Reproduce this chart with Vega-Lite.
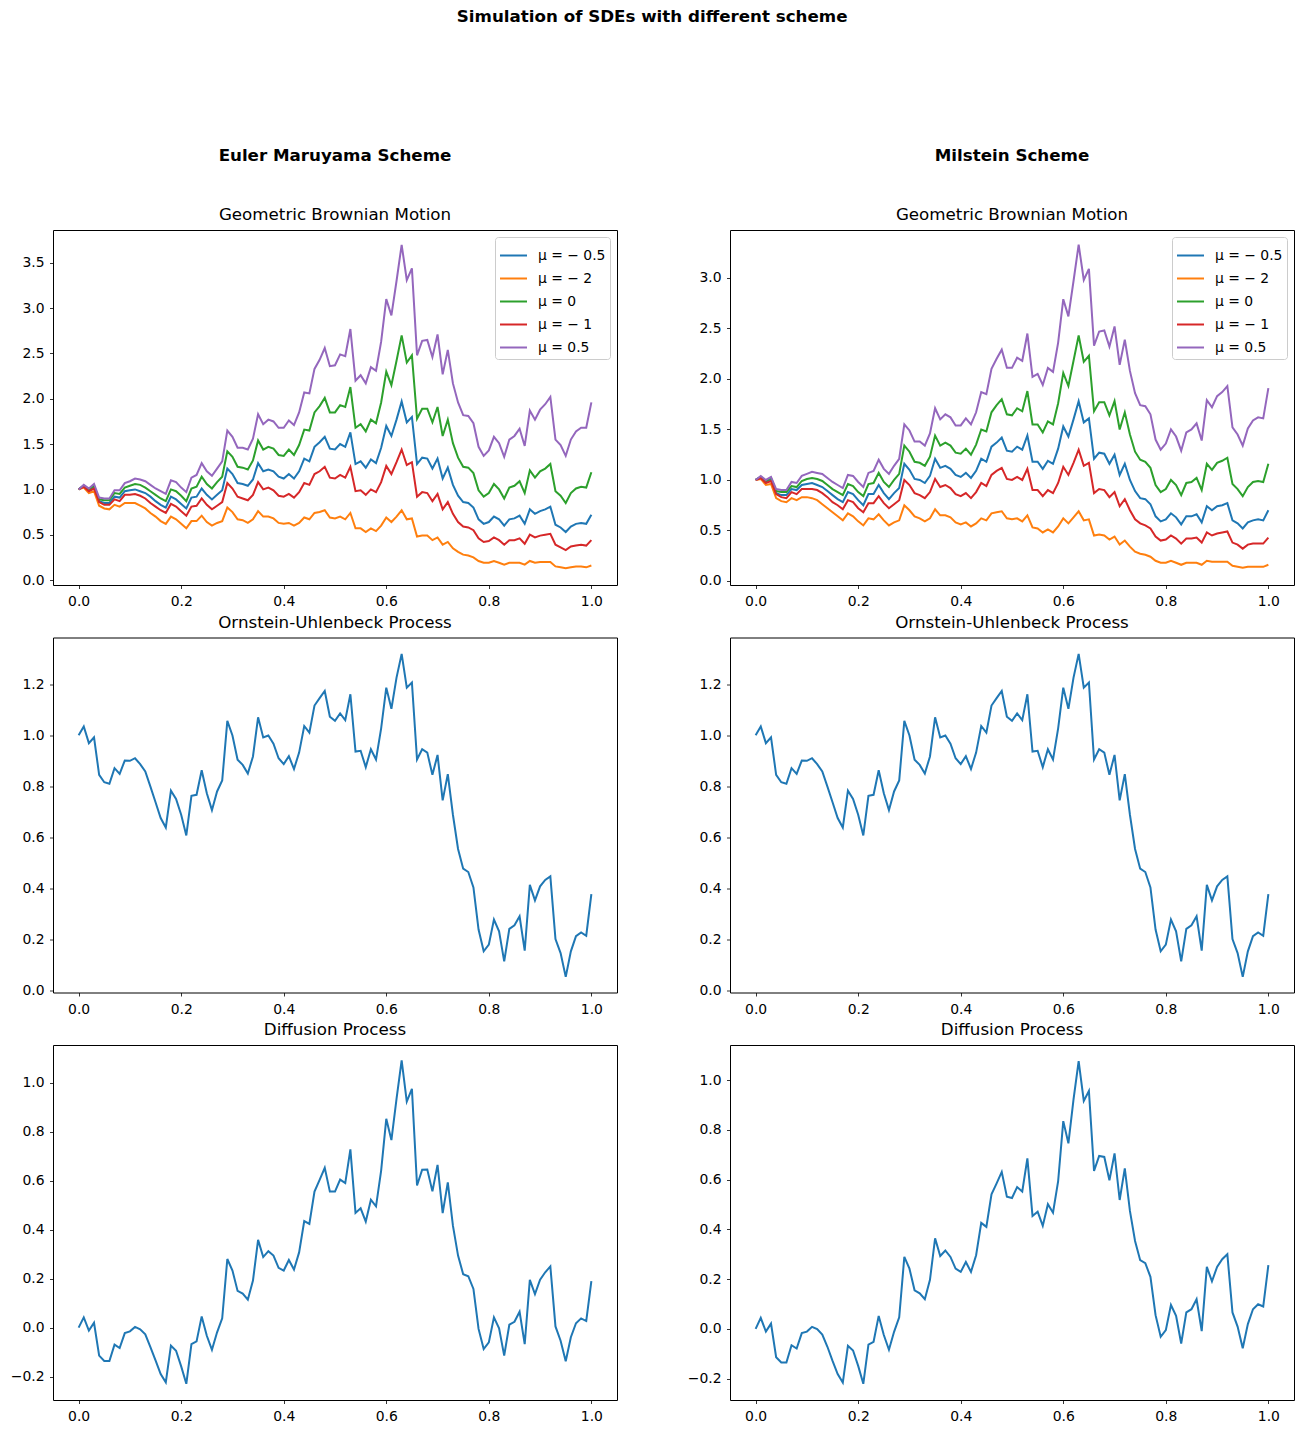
{
"$schema":"https://vega.github.io/schema/vega-lite/v6.json",
"background":"white",
"padding":{"left":9,"top":9,"right":10,"bottom":10},
"config":{
"font":"DejaVu Sans",
"view":{"stroke":"black","strokeWidth":1},
"axis":{"grid":false,"domain":false,"tickColor":"black","tickSize":3.5,"tickWidth":0.8,"labelColor":"black","labelFontSize":13.9,"labelPadding":3.5,"labelFont":"DejaVu Sans","title":null},
"axisY":{"minExtent":40,"maxExtent":40,"labelPadding":5.5},
"axisX":{"minExtent":22,"maxExtent":22,"labelPadding":6},
"title":{"font":"DejaVu Sans","fontSize":16.7,"fontWeight":"normal","color":"black","anchor":"middle","frame":"group","offset":6},
"legend":{"title":null,"orient":"top-right","offset":7,"strokeColor":"#cccccc","fillColor":"rgba(255,255,255,0.8)","cornerRadius":3,"padding":4,"symbolType":"stroke","symbolSize":729,"symbolStrokeWidth":2,"labelFontSize":13.9,"labelFont":"DejaVu Sans","rowPadding":1,"labelOffset":10,"labelColor":"black"}
},
"title":{"text":"Simulation of SDEs with different scheme","fontWeight":"bold","fontSize":16.7,"offset":121,"anchor":"middle","frame":"bounds"},
"resolve":{"scale":{"color":"independent"},"legend":{"color":"independent"}},
"datasets":{
"gL":[
{"t":0,"m":-0.5,"y":1.00},{"t":0.01,"m":-0.5,"y":1.04},{"t":0.02,"m":-0.5,"y":0.99},{"t":0.03,"m":-0.5,"y":1.02},{"t":0.04,"m":-0.5,"y":0.87},{"t":0.05,"m":-0.5,"y":0.85},{"t":0.06,"m":-0.5,"y":0.85},{"t":0.07,"m":-0.5,"y":0.92},{"t":0.08,"m":-0.5,"y":0.91},{"t":0.09,"m":-0.5,"y":0.98},
{"t":0.1,"m":-0.5,"y":0.99},{"t":0.11,"m":-0.5,"y":1.00},{"t":0.12,"m":-0.5,"y":0.98},{"t":0.13,"m":-0.5,"y":0.96},{"t":0.14,"m":-0.5,"y":0.92},{"t":0.15,"m":-0.5,"y":0.87},{"t":0.16,"m":-0.5,"y":0.83},{"t":0.17,"m":-0.5,"y":0.80},{"t":0.18,"m":-0.5,"y":0.92},{"t":0.19,"m":-0.5,"y":0.89},
{"t":0.2,"m":-0.5,"y":0.84},{"t":0.21,"m":-0.5,"y":0.79},{"t":0.22,"m":-0.5,"y":0.91},{"t":0.23,"m":-0.5,"y":0.92},{"t":0.24,"m":-0.5,"y":1.01},{"t":0.25,"m":-0.5,"y":0.94},{"t":0.26,"m":-0.5,"y":0.89},{"t":0.27,"m":-0.5,"y":0.94},{"t":0.28,"m":-0.5,"y":0.99},{"t":0.29,"m":-0.5,"y":1.23},
{"t":0.3,"m":-0.5,"y":1.17},{"t":0.31,"m":-0.5,"y":1.07},{"t":0.32,"m":-0.5,"y":1.06},{"t":0.33,"m":-0.5,"y":1.04},{"t":0.34,"m":-0.5,"y":1.11},{"t":0.35,"m":-0.5,"y":1.29},{"t":0.36,"m":-0.5,"y":1.20},{"t":0.37,"m":-0.5,"y":1.22},{"t":0.38,"m":-0.5,"y":1.20},{"t":0.39,"m":-0.5,"y":1.14},
{"t":0.4,"m":-0.5,"y":1.12},{"t":0.41,"m":-0.5,"y":1.17},{"t":0.42,"m":-0.5,"y":1.12},{"t":0.43,"m":-0.5,"y":1.20},{"t":0.44,"m":-0.5,"y":1.34},{"t":0.45,"m":-0.5,"y":1.31},{"t":0.46,"m":-0.5,"y":1.47},{"t":0.47,"m":-0.5,"y":1.52},{"t":0.48,"m":-0.5,"y":1.58},{"t":0.49,"m":-0.5,"y":1.45},
{"t":0.5,"m":-0.5,"y":1.44},{"t":0.51,"m":-0.5,"y":1.50},{"t":0.52,"m":-0.5,"y":1.47},{"t":0.53,"m":-0.5,"y":1.63},{"t":0.54,"m":-0.5,"y":1.28},{"t":0.55,"m":-0.5,"y":1.31},{"t":0.56,"m":-0.5,"y":1.24},{"t":0.57,"m":-0.5,"y":1.33},{"t":0.58,"m":-0.5,"y":1.29},{"t":0.59,"m":-0.5,"y":1.46},
{"t":0.6,"m":-0.5,"y":1.70},{"t":0.61,"m":-0.5,"y":1.59},{"t":0.62,"m":-0.5,"y":1.77},{"t":0.63,"m":-0.5,"y":1.97},{"t":0.64,"m":-0.5,"y":1.74},{"t":0.65,"m":-0.5,"y":1.80},{"t":0.66,"m":-0.5,"y":1.28},{"t":0.67,"m":-0.5,"y":1.35},{"t":0.68,"m":-0.5,"y":1.34},{"t":0.69,"m":-0.5,"y":1.23},
{"t":0.7,"m":-0.5,"y":1.34},{"t":0.71,"m":-0.5,"y":1.12},{"t":0.72,"m":-0.5,"y":1.24},{"t":0.73,"m":-0.5,"y":1.05},{"t":0.74,"m":-0.5,"y":0.93},{"t":0.75,"m":-0.5,"y":0.86},{"t":0.76,"m":-0.5,"y":0.85},{"t":0.77,"m":-0.5,"y":0.80},{"t":0.78,"m":-0.5,"y":0.67},{"t":0.79,"m":-0.5,"y":0.62},
{"t":0.8,"m":-0.5,"y":0.64},{"t":0.81,"m":-0.5,"y":0.70},{"t":0.82,"m":-0.5,"y":0.67},{"t":0.83,"m":-0.5,"y":0.60},{"t":0.84,"m":-0.5,"y":0.67},{"t":0.85,"m":-0.5,"y":0.68},{"t":0.86,"m":-0.5,"y":0.71},{"t":0.87,"m":-0.5,"y":0.62},{"t":0.88,"m":-0.5,"y":0.78},{"t":0.89,"m":-0.5,"y":0.73},
{"t":0.9,"m":-0.5,"y":0.76},{"t":0.91,"m":-0.5,"y":0.78},{"t":0.92,"m":-0.5,"y":0.81},{"t":0.93,"m":-0.5,"y":0.61},{"t":0.94,"m":-0.5,"y":0.58},{"t":0.95,"m":-0.5,"y":0.53},{"t":0.96,"m":-0.5,"y":0.59},{"t":0.97,"m":-0.5,"y":0.62},{"t":0.98,"m":-0.5,"y":0.63},{"t":0.99,"m":-0.5,"y":0.62},{"t":1,"m":-0.5,"y":0.72},
{"t":0,"m":-2,"y":1.00},{"t":0.01,"m":-2,"y":1.02},{"t":0.02,"m":-2,"y":0.96},{"t":0.03,"m":-2,"y":0.98},{"t":0.04,"m":-2,"y":0.82},{"t":0.05,"m":-2,"y":0.79},{"t":0.06,"m":-2,"y":0.78},{"t":0.07,"m":-2,"y":0.83},{"t":0.08,"m":-2,"y":0.81},{"t":0.09,"m":-2,"y":0.85},
{"t":0.1,"m":-2,"y":0.85},{"t":0.11,"m":-2,"y":0.85},{"t":0.12,"m":-2,"y":0.82},{"t":0.13,"m":-2,"y":0.79},{"t":0.14,"m":-2,"y":0.74},{"t":0.15,"m":-2,"y":0.70},{"t":0.16,"m":-2,"y":0.65},{"t":0.17,"m":-2,"y":0.62},{"t":0.18,"m":-2,"y":0.70},{"t":0.19,"m":-2,"y":0.67},
{"t":0.2,"m":-2,"y":0.62},{"t":0.21,"m":-2,"y":0.57},{"t":0.22,"m":-2,"y":0.65},{"t":0.23,"m":-2,"y":0.65},{"t":0.24,"m":-2,"y":0.71},{"t":0.25,"m":-2,"y":0.64},{"t":0.26,"m":-2,"y":0.60},{"t":0.27,"m":-2,"y":0.63},{"t":0.28,"m":-2,"y":0.65},{"t":0.29,"m":-2,"y":0.80},
{"t":0.3,"m":-2,"y":0.75},{"t":0.31,"m":-2,"y":0.67},{"t":0.32,"m":-2,"y":0.66},{"t":0.33,"m":-2,"y":0.63},{"t":0.34,"m":-2,"y":0.67},{"t":0.35,"m":-2,"y":0.76},{"t":0.36,"m":-2,"y":0.70},{"t":0.37,"m":-2,"y":0.70},{"t":0.38,"m":-2,"y":0.68},{"t":0.39,"m":-2,"y":0.63},
{"t":0.4,"m":-2,"y":0.62},{"t":0.41,"m":-2,"y":0.63},{"t":0.42,"m":-2,"y":0.60},{"t":0.43,"m":-2,"y":0.63},{"t":0.44,"m":-2,"y":0.69},{"t":0.45,"m":-2,"y":0.67},{"t":0.46,"m":-2,"y":0.74},{"t":0.47,"m":-2,"y":0.75},{"t":0.48,"m":-2,"y":0.77},{"t":0.49,"m":-2,"y":0.69},
{"t":0.5,"m":-2,"y":0.68},{"t":0.51,"m":-2,"y":0.70},{"t":0.52,"m":-2,"y":0.67},{"t":0.53,"m":-2,"y":0.74},{"t":0.54,"m":-2,"y":0.57},{"t":0.55,"m":-2,"y":0.57},{"t":0.56,"m":-2,"y":0.53},{"t":0.57,"m":-2,"y":0.57},{"t":0.58,"m":-2,"y":0.54},{"t":0.59,"m":-2,"y":0.60},
{"t":0.6,"m":-2,"y":0.69},{"t":0.61,"m":-2,"y":0.64},{"t":0.62,"m":-2,"y":0.70},{"t":0.63,"m":-2,"y":0.77},{"t":0.64,"m":-2,"y":0.67},{"t":0.65,"m":-2,"y":0.68},{"t":0.66,"m":-2,"y":0.48},{"t":0.67,"m":-2,"y":0.49},{"t":0.68,"m":-2,"y":0.49},{"t":0.69,"m":-2,"y":0.44},
{"t":0.7,"m":-2,"y":0.47},{"t":0.71,"m":-2,"y":0.39},{"t":0.72,"m":-2,"y":0.42},{"t":0.73,"m":-2,"y":0.35},{"t":0.74,"m":-2,"y":0.31},{"t":0.75,"m":-2,"y":0.28},{"t":0.76,"m":-2,"y":0.27},{"t":0.77,"m":-2,"y":0.25},{"t":0.78,"m":-2,"y":0.21},{"t":0.79,"m":-2,"y":0.19},
{"t":0.8,"m":-2,"y":0.19},{"t":0.81,"m":-2,"y":0.21},{"t":0.82,"m":-2,"y":0.19},{"t":0.83,"m":-2,"y":0.17},{"t":0.84,"m":-2,"y":0.19},{"t":0.85,"m":-2,"y":0.19},{"t":0.86,"m":-2,"y":0.19},{"t":0.87,"m":-2,"y":0.17},{"t":0.88,"m":-2,"y":0.21},{"t":0.89,"m":-2,"y":0.19},
{"t":0.9,"m":-2,"y":0.20},{"t":0.91,"m":-2,"y":0.20},{"t":0.92,"m":-2,"y":0.20},{"t":0.93,"m":-2,"y":0.15},{"t":0.94,"m":-2,"y":0.14},{"t":0.95,"m":-2,"y":0.13},{"t":0.96,"m":-2,"y":0.14},{"t":0.97,"m":-2,"y":0.15},{"t":0.98,"m":-2,"y":0.15},{"t":0.99,"m":-2,"y":0.14},{"t":1,"m":-2,"y":0.16},
{"t":0,"m":0,"y":1.00},{"t":0.01,"m":0,"y":1.04},{"t":0.02,"m":0,"y":1.00},{"t":0.03,"m":0,"y":1.04},{"t":0.04,"m":0,"y":0.89},{"t":0.05,"m":0,"y":0.88},{"t":0.06,"m":0,"y":0.88},{"t":0.07,"m":0,"y":0.96},{"t":0.08,"m":0,"y":0.95},{"t":0.09,"m":0,"y":1.02},
{"t":0.1,"m":0,"y":1.04},{"t":0.11,"m":0,"y":1.06},{"t":0.12,"m":0,"y":1.05},{"t":0.13,"m":0,"y":1.02},{"t":0.14,"m":0,"y":0.98},{"t":0.15,"m":0,"y":0.94},{"t":0.16,"m":0,"y":0.90},{"t":0.17,"m":0,"y":0.87},{"t":0.18,"m":0,"y":1.00},{"t":0.19,"m":0,"y":0.98},
{"t":0.2,"m":0,"y":0.93},{"t":0.21,"m":0,"y":0.87},{"t":0.22,"m":0,"y":1.01},{"t":0.23,"m":0,"y":1.03},{"t":0.24,"m":0,"y":1.14},{"t":0.25,"m":0,"y":1.06},{"t":0.26,"m":0,"y":1.01},{"t":0.27,"m":0,"y":1.08},{"t":0.28,"m":0,"y":1.14},{"t":0.29,"m":0,"y":1.42},
{"t":0.3,"m":0,"y":1.36},{"t":0.31,"m":0,"y":1.25},{"t":0.32,"m":0,"y":1.24},{"t":0.33,"m":0,"y":1.22},{"t":0.34,"m":0,"y":1.32},{"t":0.35,"m":0,"y":1.54},{"t":0.36,"m":0,"y":1.44},{"t":0.37,"m":0,"y":1.47},{"t":0.38,"m":0,"y":1.45},{"t":0.39,"m":0,"y":1.38},
{"t":0.4,"m":0,"y":1.37},{"t":0.41,"m":0,"y":1.44},{"t":0.42,"m":0,"y":1.38},{"t":0.43,"m":0,"y":1.49},{"t":0.44,"m":0,"y":1.66},{"t":0.45,"m":0,"y":1.65},{"t":0.46,"m":0,"y":1.85},{"t":0.47,"m":0,"y":1.92},{"t":0.48,"m":0,"y":2.01},{"t":0.49,"m":0,"y":1.85},
{"t":0.5,"m":0,"y":1.85},{"t":0.51,"m":0,"y":1.93},{"t":0.52,"m":0,"y":1.91},{"t":0.53,"m":0,"y":2.13},{"t":0.54,"m":0,"y":1.68},{"t":0.55,"m":0,"y":1.72},{"t":0.56,"m":0,"y":1.64},{"t":0.57,"m":0,"y":1.77},{"t":0.58,"m":0,"y":1.73},{"t":0.59,"m":0,"y":1.96},
{"t":0.6,"m":0,"y":2.30},{"t":0.61,"m":0,"y":2.15},{"t":0.62,"m":0,"y":2.42},{"t":0.63,"m":0,"y":2.70},{"t":0.64,"m":0,"y":2.40},{"t":0.65,"m":0,"y":2.48},{"t":0.66,"m":0,"y":1.78},{"t":0.67,"m":0,"y":1.89},{"t":0.68,"m":0,"y":1.89},{"t":0.69,"m":0,"y":1.74},
{"t":0.7,"m":0,"y":1.91},{"t":0.71,"m":0,"y":1.59},{"t":0.72,"m":0,"y":1.77},{"t":0.73,"m":0,"y":1.51},{"t":0.74,"m":0,"y":1.35},{"t":0.75,"m":0,"y":1.25},{"t":0.76,"m":0,"y":1.24},{"t":0.77,"m":0,"y":1.18},{"t":0.78,"m":0,"y":0.99},{"t":0.79,"m":0,"y":0.92},
{"t":0.8,"m":0,"y":0.96},{"t":0.81,"m":0,"y":1.06},{"t":0.82,"m":0,"y":1.00},{"t":0.83,"m":0,"y":0.90},{"t":0.84,"m":0,"y":1.02},{"t":0.85,"m":0,"y":1.04},{"t":0.86,"m":0,"y":1.09},{"t":0.87,"m":0,"y":0.96},{"t":0.88,"m":0,"y":1.21},{"t":0.89,"m":0,"y":1.13},
{"t":0.9,"m":0,"y":1.20},{"t":0.91,"m":0,"y":1.23},{"t":0.92,"m":0,"y":1.28},{"t":0.93,"m":0,"y":0.98},{"t":0.94,"m":0,"y":0.93},{"t":0.95,"m":0,"y":0.85},{"t":0.96,"m":0,"y":0.96},{"t":0.97,"m":0,"y":1.01},{"t":0.98,"m":0,"y":1.03},{"t":0.99,"m":0,"y":1.02},{"t":1,"m":0,"y":1.19},
{"t":0,"m":-1,"y":1.00},{"t":0.01,"m":-1,"y":1.03},{"t":0.02,"m":-1,"y":0.98},{"t":0.03,"m":-1,"y":1.01},{"t":0.04,"m":-1,"y":0.86},{"t":0.05,"m":-1,"y":0.83},{"t":0.06,"m":-1,"y":0.83},{"t":0.07,"m":-1,"y":0.89},{"t":0.08,"m":-1,"y":0.87},{"t":0.09,"m":-1,"y":0.94},
{"t":0.1,"m":-1,"y":0.94},{"t":0.11,"m":-1,"y":0.95},{"t":0.12,"m":-1,"y":0.93},{"t":0.13,"m":-1,"y":0.90},{"t":0.14,"m":-1,"y":0.85},{"t":0.15,"m":-1,"y":0.81},{"t":0.16,"m":-1,"y":0.77},{"t":0.17,"m":-1,"y":0.74},{"t":0.18,"m":-1,"y":0.84},{"t":0.19,"m":-1,"y":0.81},
{"t":0.2,"m":-1,"y":0.76},{"t":0.21,"m":-1,"y":0.71},{"t":0.22,"m":-1,"y":0.81},{"t":0.23,"m":-1,"y":0.82},{"t":0.24,"m":-1,"y":0.90},{"t":0.25,"m":-1,"y":0.83},{"t":0.26,"m":-1,"y":0.78},{"t":0.27,"m":-1,"y":0.82},{"t":0.28,"m":-1,"y":0.86},{"t":0.29,"m":-1,"y":1.07},
{"t":0.3,"m":-1,"y":1.01},{"t":0.31,"m":-1,"y":0.92},{"t":0.32,"m":-1,"y":0.90},{"t":0.33,"m":-1,"y":0.88},{"t":0.34,"m":-1,"y":0.94},{"t":0.35,"m":-1,"y":1.08},{"t":0.36,"m":-1,"y":1.00},{"t":0.37,"m":-1,"y":1.02},{"t":0.38,"m":-1,"y":0.99},{"t":0.39,"m":-1,"y":0.93},
{"t":0.4,"m":-1,"y":0.92},{"t":0.41,"m":-1,"y":0.95},{"t":0.42,"m":-1,"y":0.91},{"t":0.43,"m":-1,"y":0.97},{"t":0.44,"m":-1,"y":1.07},{"t":0.45,"m":-1,"y":1.05},{"t":0.46,"m":-1,"y":1.17},{"t":0.47,"m":-1,"y":1.20},{"t":0.48,"m":-1,"y":1.25},{"t":0.49,"m":-1,"y":1.13},
{"t":0.5,"m":-1,"y":1.12},{"t":0.51,"m":-1,"y":1.16},{"t":0.52,"m":-1,"y":1.13},{"t":0.53,"m":-1,"y":1.25},{"t":0.54,"m":-1,"y":0.98},{"t":0.55,"m":-1,"y":0.99},{"t":0.56,"m":-1,"y":0.94},{"t":0.57,"m":-1,"y":1.00},{"t":0.58,"m":-1,"y":0.97},{"t":0.59,"m":-1,"y":1.08},
{"t":0.6,"m":-1,"y":1.26},{"t":0.61,"m":-1,"y":1.17},{"t":0.62,"m":-1,"y":1.30},{"t":0.63,"m":-1,"y":1.44},{"t":0.64,"m":-1,"y":1.27},{"t":0.65,"m":-1,"y":1.30},{"t":0.66,"m":-1,"y":0.92},{"t":0.67,"m":-1,"y":0.97},{"t":0.68,"m":-1,"y":0.96},{"t":0.69,"m":-1,"y":0.87},
{"t":0.7,"m":-1,"y":0.95},{"t":0.71,"m":-1,"y":0.78},{"t":0.72,"m":-1,"y":0.86},{"t":0.73,"m":-1,"y":0.73},{"t":0.74,"m":-1,"y":0.64},{"t":0.75,"m":-1,"y":0.59},{"t":0.76,"m":-1,"y":0.58},{"t":0.77,"m":-1,"y":0.55},{"t":0.78,"m":-1,"y":0.46},{"t":0.79,"m":-1,"y":0.42},
{"t":0.8,"m":-1,"y":0.43},{"t":0.81,"m":-1,"y":0.47},{"t":0.82,"m":-1,"y":0.44},{"t":0.83,"m":-1,"y":0.39},{"t":0.84,"m":-1,"y":0.44},{"t":0.85,"m":-1,"y":0.44},{"t":0.86,"m":-1,"y":0.46},{"t":0.87,"m":-1,"y":0.40},{"t":0.88,"m":-1,"y":0.50},{"t":0.89,"m":-1,"y":0.47},
{"t":0.9,"m":-1,"y":0.49},{"t":0.91,"m":-1,"y":0.50},{"t":0.92,"m":-1,"y":0.51},{"t":0.93,"m":-1,"y":0.39},{"t":0.94,"m":-1,"y":0.36},{"t":0.95,"m":-1,"y":0.33},{"t":0.96,"m":-1,"y":0.37},{"t":0.97,"m":-1,"y":0.38},{"t":0.98,"m":-1,"y":0.39},{"t":0.99,"m":-1,"y":0.38},{"t":1,"m":-1,"y":0.44},
{"t":0,"m":0.5,"y":1.00},{"t":0.01,"m":0.5,"y":1.05},{"t":0.02,"m":0.5,"y":1.01},{"t":0.03,"m":0.5,"y":1.06},{"t":0.04,"m":0.5,"y":0.91},{"t":0.05,"m":0.5,"y":0.90},{"t":0.06,"m":0.5,"y":0.90},{"t":0.07,"m":0.5,"y":0.99},{"t":0.08,"m":0.5,"y":0.99},{"t":0.09,"m":0.5,"y":1.07},
{"t":0.1,"m":0.5,"y":1.09},{"t":0.11,"m":0.5,"y":1.12},{"t":0.12,"m":0.5,"y":1.11},{"t":0.13,"m":0.5,"y":1.09},{"t":0.14,"m":0.5,"y":1.05},{"t":0.15,"m":0.5,"y":1.01},{"t":0.16,"m":0.5,"y":0.98},{"t":0.17,"m":0.5,"y":0.95},{"t":0.18,"m":0.5,"y":1.10},{"t":0.19,"m":0.5,"y":1.08},
{"t":0.2,"m":0.5,"y":1.02},{"t":0.21,"m":0.5,"y":0.97},{"t":0.22,"m":0.5,"y":1.13},{"t":0.23,"m":0.5,"y":1.16},{"t":0.24,"m":0.5,"y":1.29},{"t":0.25,"m":0.5,"y":1.20},{"t":0.26,"m":0.5,"y":1.15},{"t":0.27,"m":0.5,"y":1.23},{"t":0.28,"m":0.5,"y":1.31},{"t":0.29,"m":0.5,"y":1.65},
{"t":0.3,"m":0.5,"y":1.58},{"t":0.31,"m":0.5,"y":1.46},{"t":0.32,"m":0.5,"y":1.46},{"t":0.33,"m":0.5,"y":1.44},{"t":0.34,"m":0.5,"y":1.56},{"t":0.35,"m":0.5,"y":1.83},{"t":0.36,"m":0.5,"y":1.72},{"t":0.37,"m":0.5,"y":1.77},{"t":0.38,"m":0.5,"y":1.75},{"t":0.39,"m":0.5,"y":1.68},
{"t":0.4,"m":0.5,"y":1.68},{"t":0.41,"m":0.5,"y":1.76},{"t":0.42,"m":0.5,"y":1.71},{"t":0.43,"m":0.5,"y":1.85},{"t":0.44,"m":0.5,"y":2.07},{"t":0.45,"m":0.5,"y":2.06},{"t":0.46,"m":0.5,"y":2.33},{"t":0.47,"m":0.5,"y":2.43},{"t":0.48,"m":0.5,"y":2.56},{"t":0.49,"m":0.5,"y":2.36},
{"t":0.5,"m":0.5,"y":2.37},{"t":0.51,"m":0.5,"y":2.49},{"t":0.52,"m":0.5,"y":2.47},{"t":0.53,"m":0.5,"y":2.77},{"t":0.54,"m":0.5,"y":2.20},{"t":0.55,"m":0.5,"y":2.26},{"t":0.56,"m":0.5,"y":2.17},{"t":0.57,"m":0.5,"y":2.35},{"t":0.58,"m":0.5,"y":2.31},{"t":0.59,"m":0.5,"y":2.63},
{"t":0.6,"m":0.5,"y":3.10},{"t":0.61,"m":0.5,"y":2.92},{"t":0.62,"m":0.5,"y":3.30},{"t":0.63,"m":0.5,"y":3.70},{"t":0.64,"m":0.5,"y":3.31},{"t":0.65,"m":0.5,"y":3.44},{"t":0.66,"m":0.5,"y":2.48},{"t":0.67,"m":0.5,"y":2.64},{"t":0.68,"m":0.5,"y":2.65},{"t":0.69,"m":0.5,"y":2.46},
{"t":0.7,"m":0.5,"y":2.71},{"t":0.71,"m":0.5,"y":2.27},{"t":0.72,"m":0.5,"y":2.54},{"t":0.73,"m":0.5,"y":2.17},{"t":0.74,"m":0.5,"y":1.96},{"t":0.75,"m":0.5,"y":1.82},{"t":0.76,"m":0.5,"y":1.81},{"t":0.77,"m":0.5,"y":1.73},{"t":0.78,"m":0.5,"y":1.47},{"t":0.79,"m":0.5,"y":1.37},
{"t":0.8,"m":0.5,"y":1.43},{"t":0.81,"m":0.5,"y":1.58},{"t":0.82,"m":0.5,"y":1.51},{"t":0.83,"m":0.5,"y":1.36},{"t":0.84,"m":0.5,"y":1.55},{"t":0.85,"m":0.5,"y":1.59},{"t":0.86,"m":0.5,"y":1.67},{"t":0.87,"m":0.5,"y":1.48},{"t":0.88,"m":0.5,"y":1.87},{"t":0.89,"m":0.5,"y":1.77},
{"t":0.9,"m":0.5,"y":1.88},{"t":0.91,"m":0.5,"y":1.94},{"t":0.92,"m":0.5,"y":2.02},{"t":0.93,"m":0.5,"y":1.55},{"t":0.94,"m":0.5,"y":1.49},{"t":0.95,"m":0.5,"y":1.37},{"t":0.96,"m":0.5,"y":1.55},{"t":0.97,"m":0.5,"y":1.64},{"t":0.98,"m":0.5,"y":1.68},{"t":0.99,"m":0.5,"y":1.68},{"t":1,"m":0.5,"y":1.96}
],
"gR":[
{"t":0,"m":-0.5,"y":1.00},{"t":0.01,"m":-0.5,"y":1.03},{"t":0.02,"m":-0.5,"y":0.98},{"t":0.03,"m":-0.5,"y":1.00},{"t":0.04,"m":-0.5,"y":0.87},{"t":0.05,"m":-0.5,"y":0.85},{"t":0.06,"m":-0.5,"y":0.85},{"t":0.07,"m":-0.5,"y":0.91},{"t":0.08,"m":-0.5,"y":0.90},{"t":0.09,"m":-0.5,"y":0.95},
{"t":0.1,"m":-0.5,"y":0.96},{"t":0.11,"m":-0.5,"y":0.97},{"t":0.12,"m":-0.5,"y":0.95},{"t":0.13,"m":-0.5,"y":0.93},{"t":0.14,"m":-0.5,"y":0.89},{"t":0.15,"m":-0.5,"y":0.85},{"t":0.16,"m":-0.5,"y":0.81},{"t":0.17,"m":-0.5,"y":0.78},{"t":0.18,"m":-0.5,"y":0.88},{"t":0.19,"m":-0.5,"y":0.86},
{"t":0.2,"m":-0.5,"y":0.80},{"t":0.21,"m":-0.5,"y":0.75},{"t":0.22,"m":-0.5,"y":0.86},{"t":0.23,"m":-0.5,"y":0.86},{"t":0.24,"m":-0.5,"y":0.95},{"t":0.25,"m":-0.5,"y":0.87},{"t":0.26,"m":-0.5,"y":0.81},{"t":0.27,"m":-0.5,"y":0.87},{"t":0.28,"m":-0.5,"y":0.92},{"t":0.29,"m":-0.5,"y":1.16},
{"t":0.3,"m":-0.5,"y":1.10},{"t":0.31,"m":-0.5,"y":1.01},{"t":0.32,"m":-0.5,"y":1.00},{"t":0.33,"m":-0.5,"y":0.97},{"t":0.34,"m":-0.5,"y":1.04},{"t":0.35,"m":-0.5,"y":1.21},{"t":0.36,"m":-0.5,"y":1.12},{"t":0.37,"m":-0.5,"y":1.14},{"t":0.38,"m":-0.5,"y":1.11},{"t":0.39,"m":-0.5,"y":1.05},
{"t":0.4,"m":-0.5,"y":1.03},{"t":0.41,"m":-0.5,"y":1.07},{"t":0.42,"m":-0.5,"y":1.02},{"t":0.43,"m":-0.5,"y":1.09},{"t":0.44,"m":-0.5,"y":1.21},{"t":0.45,"m":-0.5,"y":1.18},{"t":0.46,"m":-0.5,"y":1.33},{"t":0.47,"m":-0.5,"y":1.37},{"t":0.48,"m":-0.5,"y":1.42},{"t":0.49,"m":-0.5,"y":1.29},
{"t":0.5,"m":-0.5,"y":1.28},{"t":0.51,"m":-0.5,"y":1.33},{"t":0.52,"m":-0.5,"y":1.30},{"t":0.53,"m":-0.5,"y":1.44},{"t":0.54,"m":-0.5,"y":1.18},{"t":0.55,"m":-0.5,"y":1.18},{"t":0.56,"m":-0.5,"y":1.11},{"t":0.57,"m":-0.5,"y":1.19},{"t":0.58,"m":-0.5,"y":1.16},{"t":0.59,"m":-0.5,"y":1.31},
{"t":0.6,"m":-0.5,"y":1.53},{"t":0.61,"m":-0.5,"y":1.43},{"t":0.62,"m":-0.5,"y":1.60},{"t":0.63,"m":-0.5,"y":1.78},{"t":0.64,"m":-0.5,"y":1.57},{"t":0.65,"m":-0.5,"y":1.61},{"t":0.66,"m":-0.5,"y":1.21},{"t":0.67,"m":-0.5,"y":1.27},{"t":0.68,"m":-0.5,"y":1.26},{"t":0.69,"m":-0.5,"y":1.16},
{"t":0.7,"m":-0.5,"y":1.25},{"t":0.71,"m":-0.5,"y":1.05},{"t":0.72,"m":-0.5,"y":1.16},{"t":0.73,"m":-0.5,"y":1.00},{"t":0.74,"m":-0.5,"y":0.89},{"t":0.75,"m":-0.5,"y":0.82},{"t":0.76,"m":-0.5,"y":0.81},{"t":0.77,"m":-0.5,"y":0.76},{"t":0.78,"m":-0.5,"y":0.64},{"t":0.79,"m":-0.5,"y":0.59},
{"t":0.8,"m":-0.5,"y":0.61},{"t":0.81,"m":-0.5,"y":0.67},{"t":0.82,"m":-0.5,"y":0.63},{"t":0.83,"m":-0.5,"y":0.56},{"t":0.84,"m":-0.5,"y":0.64},{"t":0.85,"m":-0.5,"y":0.64},{"t":0.86,"m":-0.5,"y":0.66},{"t":0.87,"m":-0.5,"y":0.58},{"t":0.88,"m":-0.5,"y":0.74},{"t":0.89,"m":-0.5,"y":0.70},
{"t":0.9,"m":-0.5,"y":0.74},{"t":0.91,"m":-0.5,"y":0.75},{"t":0.92,"m":-0.5,"y":0.77},{"t":0.93,"m":-0.5,"y":0.60},{"t":0.94,"m":-0.5,"y":0.57},{"t":0.95,"m":-0.5,"y":0.52},{"t":0.96,"m":-0.5,"y":0.58},{"t":0.97,"m":-0.5,"y":0.60},{"t":0.98,"m":-0.5,"y":0.61},{"t":0.99,"m":-0.5,"y":0.60},{"t":1,"m":-0.5,"y":0.70},
{"t":0,"m":-2,"y":1.00},{"t":0.01,"m":-2,"y":1.01},{"t":0.02,"m":-2,"y":0.95},{"t":0.03,"m":-2,"y":0.96},{"t":0.04,"m":-2,"y":0.82},{"t":0.05,"m":-2,"y":0.79},{"t":0.06,"m":-2,"y":0.78},{"t":0.07,"m":-2,"y":0.82},{"t":0.08,"m":-2,"y":0.80},{"t":0.09,"m":-2,"y":0.83},
{"t":0.1,"m":-2,"y":0.83},{"t":0.11,"m":-2,"y":0.82},{"t":0.12,"m":-2,"y":0.80},{"t":0.13,"m":-2,"y":0.76},{"t":0.14,"m":-2,"y":0.72},{"t":0.15,"m":-2,"y":0.68},{"t":0.16,"m":-2,"y":0.64},{"t":0.17,"m":-2,"y":0.60},{"t":0.18,"m":-2,"y":0.67},{"t":0.19,"m":-2,"y":0.64},
{"t":0.2,"m":-2,"y":0.59},{"t":0.21,"m":-2,"y":0.55},{"t":0.22,"m":-2,"y":0.62},{"t":0.23,"m":-2,"y":0.61},{"t":0.24,"m":-2,"y":0.66},{"t":0.25,"m":-2,"y":0.60},{"t":0.26,"m":-2,"y":0.55},{"t":0.27,"m":-2,"y":0.58},{"t":0.28,"m":-2,"y":0.60},{"t":0.29,"m":-2,"y":0.75},
{"t":0.3,"m":-2,"y":0.70},{"t":0.31,"m":-2,"y":0.64},{"t":0.32,"m":-2,"y":0.62},{"t":0.33,"m":-2,"y":0.59},{"t":0.34,"m":-2,"y":0.62},{"t":0.35,"m":-2,"y":0.71},{"t":0.36,"m":-2,"y":0.65},{"t":0.37,"m":-2,"y":0.65},{"t":0.38,"m":-2,"y":0.63},{"t":0.39,"m":-2,"y":0.58},
{"t":0.4,"m":-2,"y":0.56},{"t":0.41,"m":-2,"y":0.58},{"t":0.42,"m":-2,"y":0.54},{"t":0.43,"m":-2,"y":0.57},{"t":0.44,"m":-2,"y":0.62},{"t":0.45,"m":-2,"y":0.60},{"t":0.46,"m":-2,"y":0.67},{"t":0.47,"m":-2,"y":0.68},{"t":0.48,"m":-2,"y":0.69},{"t":0.49,"m":-2,"y":0.62},
{"t":0.5,"m":-2,"y":0.61},{"t":0.51,"m":-2,"y":0.62},{"t":0.52,"m":-2,"y":0.59},{"t":0.53,"m":-2,"y":0.65},{"t":0.54,"m":-2,"y":0.53},{"t":0.55,"m":-2,"y":0.52},{"t":0.56,"m":-2,"y":0.48},{"t":0.57,"m":-2,"y":0.51},{"t":0.58,"m":-2,"y":0.48},{"t":0.59,"m":-2,"y":0.54},
{"t":0.6,"m":-2,"y":0.62},{"t":0.61,"m":-2,"y":0.57},{"t":0.62,"m":-2,"y":0.63},{"t":0.63,"m":-2,"y":0.69},{"t":0.64,"m":-2,"y":0.60},{"t":0.65,"m":-2,"y":0.61},{"t":0.66,"m":-2,"y":0.45},{"t":0.67,"m":-2,"y":0.46},{"t":0.68,"m":-2,"y":0.45},{"t":0.69,"m":-2,"y":0.41},
{"t":0.7,"m":-2,"y":0.44},{"t":0.71,"m":-2,"y":0.36},{"t":0.72,"m":-2,"y":0.40},{"t":0.73,"m":-2,"y":0.34},{"t":0.74,"m":-2,"y":0.29},{"t":0.75,"m":-2,"y":0.27},{"t":0.76,"m":-2,"y":0.26},{"t":0.77,"m":-2,"y":0.24},{"t":0.78,"m":-2,"y":0.20},{"t":0.79,"m":-2,"y":0.18},
{"t":0.8,"m":-2,"y":0.18},{"t":0.81,"m":-2,"y":0.20},{"t":0.82,"m":-2,"y":0.18},{"t":0.83,"m":-2,"y":0.16},{"t":0.84,"m":-2,"y":0.18},{"t":0.85,"m":-2,"y":0.18},{"t":0.86,"m":-2,"y":0.18},{"t":0.87,"m":-2,"y":0.16},{"t":0.88,"m":-2,"y":0.20},{"t":0.89,"m":-2,"y":0.19},
{"t":0.9,"m":-2,"y":0.19},{"t":0.91,"m":-2,"y":0.19},{"t":0.92,"m":-2,"y":0.19},{"t":0.93,"m":-2,"y":0.15},{"t":0.94,"m":-2,"y":0.14},{"t":0.95,"m":-2,"y":0.13},{"t":0.96,"m":-2,"y":0.14},{"t":0.97,"m":-2,"y":0.14},{"t":0.98,"m":-2,"y":0.14},{"t":0.99,"m":-2,"y":0.14},{"t":1,"m":-2,"y":0.16},
{"t":0,"m":0,"y":1.00},{"t":0.01,"m":0,"y":1.03},{"t":0.02,"m":0,"y":0.99},{"t":0.03,"m":0,"y":1.02},{"t":0.04,"m":0,"y":0.89},{"t":0.05,"m":0,"y":0.88},{"t":0.06,"m":0,"y":0.88},{"t":0.07,"m":0,"y":0.94},{"t":0.08,"m":0,"y":0.93},{"t":0.09,"m":0,"y":0.99},
{"t":0.1,"m":0,"y":1.01},{"t":0.11,"m":0,"y":1.02},{"t":0.12,"m":0,"y":1.01},{"t":0.13,"m":0,"y":0.99},{"t":0.14,"m":0,"y":0.95},{"t":0.15,"m":0,"y":0.91},{"t":0.16,"m":0,"y":0.88},{"t":0.17,"m":0,"y":0.85},{"t":0.18,"m":0,"y":0.96},{"t":0.19,"m":0,"y":0.94},
{"t":0.2,"m":0,"y":0.88},{"t":0.21,"m":0,"y":0.84},{"t":0.22,"m":0,"y":0.96},{"t":0.23,"m":0,"y":0.97},{"t":0.24,"m":0,"y":1.07},{"t":0.25,"m":0,"y":0.98},{"t":0.26,"m":0,"y":0.93},{"t":0.27,"m":0,"y":1.00},{"t":0.28,"m":0,"y":1.06},{"t":0.29,"m":0,"y":1.34},
{"t":0.3,"m":0,"y":1.28},{"t":0.31,"m":0,"y":1.18},{"t":0.32,"m":0,"y":1.17},{"t":0.33,"m":0,"y":1.14},{"t":0.34,"m":0,"y":1.23},{"t":0.35,"m":0,"y":1.44},{"t":0.36,"m":0,"y":1.34},{"t":0.37,"m":0,"y":1.37},{"t":0.38,"m":0,"y":1.34},{"t":0.39,"m":0,"y":1.27},
{"t":0.4,"m":0,"y":1.26},{"t":0.41,"m":0,"y":1.31},{"t":0.42,"m":0,"y":1.25},{"t":0.43,"m":0,"y":1.35},{"t":0.44,"m":0,"y":1.50},{"t":0.45,"m":0,"y":1.48},{"t":0.46,"m":0,"y":1.67},{"t":0.47,"m":0,"y":1.74},{"t":0.48,"m":0,"y":1.80},{"t":0.49,"m":0,"y":1.65},
{"t":0.5,"m":0,"y":1.64},{"t":0.51,"m":0,"y":1.71},{"t":0.52,"m":0,"y":1.68},{"t":0.53,"m":0,"y":1.88},{"t":0.54,"m":0,"y":1.55},{"t":0.55,"m":0,"y":1.55},{"t":0.56,"m":0,"y":1.47},{"t":0.57,"m":0,"y":1.58},{"t":0.58,"m":0,"y":1.55},{"t":0.59,"m":0,"y":1.76},
{"t":0.6,"m":0,"y":2.06},{"t":0.61,"m":0,"y":1.93},{"t":0.62,"m":0,"y":2.18},{"t":0.63,"m":0,"y":2.43},{"t":0.64,"m":0,"y":2.17},{"t":0.65,"m":0,"y":2.23},{"t":0.66,"m":0,"y":1.68},{"t":0.67,"m":0,"y":1.77},{"t":0.68,"m":0,"y":1.77},{"t":0.69,"m":0,"y":1.64},
{"t":0.7,"m":0,"y":1.78},{"t":0.71,"m":0,"y":1.50},{"t":0.72,"m":0,"y":1.67},{"t":0.73,"m":0,"y":1.45},{"t":0.74,"m":0,"y":1.28},{"t":0.75,"m":0,"y":1.20},{"t":0.76,"m":0,"y":1.18},{"t":0.77,"m":0,"y":1.12},{"t":0.78,"m":0,"y":0.95},{"t":0.79,"m":0,"y":0.88},
{"t":0.8,"m":0,"y":0.91},{"t":0.81,"m":0,"y":1.00},{"t":0.82,"m":0,"y":0.95},{"t":0.83,"m":0,"y":0.85},{"t":0.84,"m":0,"y":0.97},{"t":0.85,"m":0,"y":0.98},{"t":0.86,"m":0,"y":1.02},{"t":0.87,"m":0,"y":0.90},{"t":0.88,"m":0,"y":1.16},{"t":0.89,"m":0,"y":1.10},
{"t":0.9,"m":0,"y":1.17},{"t":0.91,"m":0,"y":1.19},{"t":0.92,"m":0,"y":1.22},{"t":0.93,"m":0,"y":0.96},{"t":0.94,"m":0,"y":0.91},{"t":0.95,"m":0,"y":0.84},{"t":0.96,"m":0,"y":0.93},{"t":0.97,"m":0,"y":0.98},{"t":0.98,"m":0,"y":0.99},{"t":0.99,"m":0,"y":0.98},{"t":1,"m":0,"y":1.16},
{"t":0,"m":-1,"y":1.00},{"t":0.01,"m":-1,"y":1.02},{"t":0.02,"m":-1,"y":0.97},{"t":0.03,"m":-1,"y":0.99},{"t":0.04,"m":-1,"y":0.86},{"t":0.05,"m":-1,"y":0.83},{"t":0.06,"m":-1,"y":0.82},{"t":0.07,"m":-1,"y":0.88},{"t":0.08,"m":-1,"y":0.86},{"t":0.09,"m":-1,"y":0.91},
{"t":0.1,"m":-1,"y":0.91},{"t":0.11,"m":-1,"y":0.91},{"t":0.12,"m":-1,"y":0.90},{"t":0.13,"m":-1,"y":0.87},{"t":0.14,"m":-1,"y":0.83},{"t":0.15,"m":-1,"y":0.78},{"t":0.16,"m":-1,"y":0.75},{"t":0.17,"m":-1,"y":0.71},{"t":0.18,"m":-1,"y":0.80},{"t":0.19,"m":-1,"y":0.78},
{"t":0.2,"m":-1,"y":0.72},{"t":0.21,"m":-1,"y":0.68},{"t":0.22,"m":-1,"y":0.77},{"t":0.23,"m":-1,"y":0.77},{"t":0.24,"m":-1,"y":0.84},{"t":0.25,"m":-1,"y":0.77},{"t":0.26,"m":-1,"y":0.72},{"t":0.27,"m":-1,"y":0.76},{"t":0.28,"m":-1,"y":0.80},{"t":0.29,"m":-1,"y":1.00},
{"t":0.3,"m":-1,"y":0.95},{"t":0.31,"m":-1,"y":0.87},{"t":0.32,"m":-1,"y":0.85},{"t":0.33,"m":-1,"y":0.82},{"t":0.34,"m":-1,"y":0.88},{"t":0.35,"m":-1,"y":1.01},{"t":0.36,"m":-1,"y":0.93},{"t":0.37,"m":-1,"y":0.95},{"t":0.38,"m":-1,"y":0.92},{"t":0.39,"m":-1,"y":0.86},
{"t":0.4,"m":-1,"y":0.84},{"t":0.41,"m":-1,"y":0.87},{"t":0.42,"m":-1,"y":0.82},{"t":0.43,"m":-1,"y":0.88},{"t":0.44,"m":-1,"y":0.97},{"t":0.45,"m":-1,"y":0.94},{"t":0.46,"m":-1,"y":1.05},{"t":0.47,"m":-1,"y":1.09},{"t":0.48,"m":-1,"y":1.12},{"t":0.49,"m":-1,"y":1.01},
{"t":0.5,"m":-1,"y":1.00},{"t":0.51,"m":-1,"y":1.03},{"t":0.52,"m":-1,"y":1.00},{"t":0.53,"m":-1,"y":1.11},{"t":0.54,"m":-1,"y":0.90},{"t":0.55,"m":-1,"y":0.90},{"t":0.56,"m":-1,"y":0.84},{"t":0.57,"m":-1,"y":0.90},{"t":0.58,"m":-1,"y":0.87},{"t":0.59,"m":-1,"y":0.97},
{"t":0.6,"m":-1,"y":1.13},{"t":0.61,"m":-1,"y":1.05},{"t":0.62,"m":-1,"y":1.17},{"t":0.63,"m":-1,"y":1.30},{"t":0.64,"m":-1,"y":1.14},{"t":0.65,"m":-1,"y":1.17},{"t":0.66,"m":-1,"y":0.87},{"t":0.67,"m":-1,"y":0.91},{"t":0.68,"m":-1,"y":0.90},{"t":0.69,"m":-1,"y":0.83},
{"t":0.7,"m":-1,"y":0.88},{"t":0.71,"m":-1,"y":0.74},{"t":0.72,"m":-1,"y":0.81},{"t":0.73,"m":-1,"y":0.70},{"t":0.74,"m":-1,"y":0.61},{"t":0.75,"m":-1,"y":0.57},{"t":0.76,"m":-1,"y":0.55},{"t":0.77,"m":-1,"y":0.52},{"t":0.78,"m":-1,"y":0.44},{"t":0.79,"m":-1,"y":0.40},
{"t":0.8,"m":-1,"y":0.41},{"t":0.81,"m":-1,"y":0.45},{"t":0.82,"m":-1,"y":0.42},{"t":0.83,"m":-1,"y":0.37},{"t":0.84,"m":-1,"y":0.42},{"t":0.85,"m":-1,"y":0.42},{"t":0.86,"m":-1,"y":0.43},{"t":0.87,"m":-1,"y":0.38},{"t":0.88,"m":-1,"y":0.48},{"t":0.89,"m":-1,"y":0.45},
{"t":0.9,"m":-1,"y":0.47},{"t":0.91,"m":-1,"y":0.48},{"t":0.92,"m":-1,"y":0.49},{"t":0.93,"m":-1,"y":0.38},{"t":0.94,"m":-1,"y":0.36},{"t":0.95,"m":-1,"y":0.32},{"t":0.96,"m":-1,"y":0.36},{"t":0.97,"m":-1,"y":0.37},{"t":0.98,"m":-1,"y":0.37},{"t":0.99,"m":-1,"y":0.37},{"t":1,"m":-1,"y":0.43},
{"t":0,"m":0.5,"y":1.00},{"t":0.01,"m":0.5,"y":1.04},{"t":0.02,"m":0.5,"y":1.00},{"t":0.03,"m":0.5,"y":1.03},{"t":0.04,"m":0.5,"y":0.91},{"t":0.05,"m":0.5,"y":0.90},{"t":0.06,"m":0.5,"y":0.90},{"t":0.07,"m":0.5,"y":0.98},{"t":0.08,"m":0.5,"y":0.97},{"t":0.09,"m":0.5,"y":1.04},
{"t":0.1,"m":0.5,"y":1.06},{"t":0.11,"m":0.5,"y":1.08},{"t":0.12,"m":0.5,"y":1.07},{"t":0.13,"m":0.5,"y":1.06},{"t":0.14,"m":0.5,"y":1.02},{"t":0.15,"m":0.5,"y":0.98},{"t":0.16,"m":0.5,"y":0.95},{"t":0.17,"m":0.5,"y":0.92},{"t":0.18,"m":0.5,"y":1.05},{"t":0.19,"m":0.5,"y":1.04},
{"t":0.2,"m":0.5,"y":0.98},{"t":0.21,"m":0.5,"y":0.93},{"t":0.22,"m":0.5,"y":1.07},{"t":0.23,"m":0.5,"y":1.09},{"t":0.24,"m":0.5,"y":1.20},{"t":0.25,"m":0.5,"y":1.11},{"t":0.26,"m":0.5,"y":1.06},{"t":0.27,"m":0.5,"y":1.14},{"t":0.28,"m":0.5,"y":1.21},{"t":0.29,"m":0.5,"y":1.55},
{"t":0.3,"m":0.5,"y":1.49},{"t":0.31,"m":0.5,"y":1.38},{"t":0.32,"m":0.5,"y":1.38},{"t":0.33,"m":0.5,"y":1.34},{"t":0.34,"m":0.5,"y":1.46},{"t":0.35,"m":0.5,"y":1.71},{"t":0.36,"m":0.5,"y":1.60},{"t":0.37,"m":0.5,"y":1.65},{"t":0.38,"m":0.5,"y":1.62},{"t":0.39,"m":0.5,"y":1.54},
{"t":0.4,"m":0.5,"y":1.54},{"t":0.41,"m":0.5,"y":1.61},{"t":0.42,"m":0.5,"y":1.55},{"t":0.43,"m":0.5,"y":1.67},{"t":0.44,"m":0.5,"y":1.87},{"t":0.45,"m":0.5,"y":1.85},{"t":0.46,"m":0.5,"y":2.10},{"t":0.47,"m":0.5,"y":2.20},{"t":0.48,"m":0.5,"y":2.29},{"t":0.49,"m":0.5,"y":2.11},
{"t":0.5,"m":0.5,"y":2.11},{"t":0.51,"m":0.5,"y":2.21},{"t":0.52,"m":0.5,"y":2.18},{"t":0.53,"m":0.5,"y":2.45},{"t":0.54,"m":0.5,"y":2.02},{"t":0.55,"m":0.5,"y":2.05},{"t":0.56,"m":0.5,"y":1.94},{"t":0.57,"m":0.5,"y":2.11},{"t":0.58,"m":0.5,"y":2.07},{"t":0.59,"m":0.5,"y":2.36},
{"t":0.6,"m":0.5,"y":2.79},{"t":0.61,"m":0.5,"y":2.62},{"t":0.62,"m":0.5,"y":2.97},{"t":0.63,"m":0.5,"y":3.33},{"t":0.64,"m":0.5,"y":2.98},{"t":0.65,"m":0.5,"y":3.09},{"t":0.66,"m":0.5,"y":2.33},{"t":0.67,"m":0.5,"y":2.47},{"t":0.68,"m":0.5,"y":2.48},{"t":0.69,"m":0.5,"y":2.32},
{"t":0.7,"m":0.5,"y":2.52},{"t":0.71,"m":0.5,"y":2.14},{"t":0.72,"m":0.5,"y":2.39},{"t":0.73,"m":0.5,"y":2.08},{"t":0.74,"m":0.5,"y":1.86},{"t":0.75,"m":0.5,"y":1.74},{"t":0.76,"m":0.5,"y":1.73},{"t":0.77,"m":0.5,"y":1.65},{"t":0.78,"m":0.5,"y":1.40},{"t":0.79,"m":0.5,"y":1.30},
{"t":0.8,"m":0.5,"y":1.36},{"t":0.81,"m":0.5,"y":1.50},{"t":0.82,"m":0.5,"y":1.43},{"t":0.83,"m":0.5,"y":1.29},{"t":0.84,"m":0.5,"y":1.47},{"t":0.85,"m":0.5,"y":1.50},{"t":0.86,"m":0.5,"y":1.56},{"t":0.87,"m":0.5,"y":1.39},{"t":0.88,"m":0.5,"y":1.79},{"t":0.89,"m":0.5,"y":1.72},
{"t":0.9,"m":0.5,"y":1.83},{"t":0.91,"m":0.5,"y":1.87},{"t":0.92,"m":0.5,"y":1.93},{"t":0.93,"m":0.5,"y":1.52},{"t":0.94,"m":0.5,"y":1.45},{"t":0.95,"m":0.5,"y":1.34},{"t":0.96,"m":0.5,"y":1.51},{"t":0.97,"m":0.5,"y":1.59},{"t":0.98,"m":0.5,"y":1.62},{"t":0.99,"m":0.5,"y":1.61},{"t":1,"m":0.5,"y":1.91}
],
"ou":[
{"t":0,"y":1.0},{"t":0.01,"y":1.034},{"t":0.02,"y":0.969},{"t":0.03,"y":0.992},{"t":0.04,"y":0.845},{"t":0.05,"y":0.816},{"t":0.06,"y":0.81},{"t":0.07,"y":0.871},{"t":0.08,"y":0.849},{"t":0.09,"y":0.901},
{"t":0.1,"y":0.9},{"t":0.11,"y":0.91},{"t":0.12,"y":0.887},{"t":0.13,"y":0.858},{"t":0.14,"y":0.799},{"t":0.15,"y":0.738},{"t":0.16,"y":0.676},{"t":0.17,"y":0.639},{"t":0.18,"y":0.783},{"t":0.19,"y":0.751},
{"t":0.2,"y":0.689},{"t":0.21,"y":0.608},{"t":0.22,"y":0.763},{"t":0.23,"y":0.767},{"t":0.24,"y":0.863},{"t":0.25,"y":0.773},{"t":0.26,"y":0.707},{"t":0.27,"y":0.78},{"t":0.28,"y":0.823},{"t":0.29,"y":1.056},
{"t":0.3,"y":0.999},{"t":0.31,"y":0.904},{"t":0.32,"y":0.884},{"t":0.33,"y":0.85},{"t":0.34,"y":0.917},{"t":0.35,"y":1.07},{"t":0.36,"y":0.991},{"t":0.37,"y":0.999},{"t":0.38,"y":0.967},{"t":0.39,"y":0.91},
{"t":0.4,"y":0.887},{"t":0.41,"y":0.918},{"t":0.42,"y":0.868},{"t":0.43,"y":0.932},{"t":0.44,"y":1.036},{"t":0.45,"y":1.01},{"t":0.46,"y":1.116},{"t":0.47,"y":1.145},{"t":0.48,"y":1.173},{"t":0.49,"y":1.072},
{"t":0.5,"y":1.056},{"t":0.51,"y":1.085},{"t":0.52,"y":1.059},{"t":0.53,"y":1.16},{"t":0.54,"y":0.936},{"t":0.55,"y":0.939},{"t":0.56,"y":0.875},{"t":0.57,"y":0.945},{"t":0.58,"y":0.905},{"t":0.59,"y":1.027},
{"t":0.6,"y":1.186},{"t":0.61,"y":1.103},{"t":0.62,"y":1.225},{"t":0.63,"y":1.318},{"t":0.64,"y":1.186},{"t":0.65,"y":1.206},{"t":0.66,"y":0.905},{"t":0.67,"y":0.945},{"t":0.68,"y":0.932},{"t":0.69,"y":0.845},
{"t":0.7,"y":0.923},{"t":0.71,"y":0.745},{"t":0.72,"y":0.848},{"t":0.73,"y":0.689},{"t":0.74,"y":0.555},{"t":0.75,"y":0.478},{"t":0.76,"y":0.465},{"t":0.77,"y":0.405},{"t":0.78,"y":0.24},{"t":0.79,"y":0.155},
{"t":0.8,"y":0.181},{"t":0.81,"y":0.279},{"t":0.82,"y":0.233},{"t":0.83,"y":0.116},{"t":0.84,"y":0.243},{"t":0.85,"y":0.257},{"t":0.86,"y":0.292},{"t":0.87,"y":0.158},{"t":0.88,"y":0.415},{"t":0.89,"y":0.354},
{"t":0.9,"y":0.409},{"t":0.91,"y":0.434},{"t":0.92,"y":0.448},{"t":0.93,"y":0.203},{"t":0.94,"y":0.148},{"t":0.95,"y":0.055},{"t":0.96,"y":0.155},{"t":0.97,"y":0.214},{"t":0.98,"y":0.229},{"t":0.99,"y":0.216},{"t":1,"y":0.379}
],
"dL":[
{"t":0,"y":0},{"t":0.01,"y":0.042},{"t":0.02,"y":-0.012},{"t":0.03,"y":0.02},{"t":0.04,"y":-0.114},{"t":0.05,"y":-0.136},{"t":0.06,"y":-0.136},{"t":0.07,"y":-0.069},{"t":0.08,"y":-0.083},{"t":0.09,"y":-0.022},
{"t":0.1,"y":-0.015},{"t":0.11,"y":0.003},{"t":0.12,"y":-0.007},{"t":0.13,"y":-0.027},{"t":0.14,"y":-0.079},{"t":0.15,"y":-0.133},{"t":0.16,"y":-0.189},{"t":0.17,"y":-0.223},{"t":0.18,"y":-0.073},{"t":0.19,"y":-0.094},
{"t":0.2,"y":-0.158},{"t":0.21,"y":-0.229},{"t":0.22,"y":-0.067},{"t":0.23,"y":-0.056},{"t":0.24,"y":0.046},{"t":0.25,"y":-0.033},{"t":0.26,"y":-0.09},{"t":0.27,"y":-0.019},{"t":0.28,"y":0.038},{"t":0.29,"y":0.28},
{"t":0.3,"y":0.233},{"t":0.31,"y":0.15},{"t":0.32,"y":0.139},{"t":0.33,"y":0.114},{"t":0.34,"y":0.192},{"t":0.35,"y":0.358},{"t":0.36,"y":0.288},{"t":0.37,"y":0.312},{"t":0.38,"y":0.294},{"t":0.39,"y":0.244},
{"t":0.4,"y":0.233},{"t":0.41,"y":0.276},{"t":0.42,"y":0.237},{"t":0.43,"y":0.307},{"t":0.44,"y":0.435},{"t":0.45,"y":0.423},{"t":0.46,"y":0.555},{"t":0.47,"y":0.603},{"t":0.48,"y":0.652},{"t":0.49,"y":0.555},
{"t":0.5,"y":0.555},{"t":0.51,"y":0.604},{"t":0.52,"y":0.59},{"t":0.53,"y":0.727},{"t":0.54,"y":0.468},{"t":0.55,"y":0.487},{"t":0.56,"y":0.433},{"t":0.57,"y":0.522},{"t":0.58,"y":0.495},{"t":0.59,"y":0.641},
{"t":0.6,"y":0.852},{"t":0.61,"y":0.765},{"t":0.62,"y":0.933},{"t":0.63,"y":1.09},{"t":0.64,"y":0.922},{"t":0.65,"y":0.974},{"t":0.66,"y":0.58},{"t":0.67,"y":0.644},{"t":0.68,"y":0.645},{"t":0.69,"y":0.556},
{"t":0.7,"y":0.664},{"t":0.71,"y":0.467},{"t":0.72,"y":0.593},{"t":0.73,"y":0.416},{"t":0.74,"y":0.294},{"t":0.75,"y":0.218},{"t":0.76,"y":0.21},{"t":0.77,"y":0.158},{"t":0.78,"y":-0.005},{"t":0.79,"y":-0.087},
{"t":0.8,"y":-0.06},{"t":0.81,"y":0.042},{"t":0.82,"y":-0.003},{"t":0.83,"y":-0.114},{"t":0.84,"y":0.012},{"t":0.85,"y":0.024},{"t":0.86,"y":0.065},{"t":0.87,"y":-0.067},{"t":0.88,"y":0.195},{"t":0.89,"y":0.137},
{"t":0.9,"y":0.196},{"t":0.91,"y":0.226},{"t":0.92,"y":0.25},{"t":0.93,"y":0.005},{"t":0.94,"y":-0.053},{"t":0.95,"y":-0.137},{"t":0.96,"y":-0.039},{"t":0.97,"y":0.018},{"t":0.98,"y":0.038},{"t":0.99,"y":0.027},{"t":1,"y":0.19}
],
"dR":[
{"t":0,"y":0},{"t":0.01,"y":0.044},{"t":0.02,"y":-0.011},{"t":0.03,"y":0.021},{"t":0.04,"y":-0.114},{"t":0.05,"y":-0.135},{"t":0.06,"y":-0.135},{"t":0.07,"y":-0.066},{"t":0.08,"y":-0.079},{"t":0.09,"y":-0.017},
{"t":0.1,"y":-0.011},{"t":0.11,"y":0.008},{"t":0.12,"y":-0.001},{"t":0.13,"y":-0.023},{"t":0.14,"y":-0.072},{"t":0.15,"y":-0.129},{"t":0.16,"y":-0.182},{"t":0.17,"y":-0.216},{"t":0.18,"y":-0.068},{"t":0.19,"y":-0.087},
{"t":0.2,"y":-0.149},{"t":0.21,"y":-0.221},{"t":0.22,"y":-0.063},{"t":0.23,"y":-0.052},{"t":0.24,"y":0.052},{"t":0.25,"y":-0.025},{"t":0.26,"y":-0.084},{"t":0.27,"y":-0.012},{"t":0.28,"y":0.046},{"t":0.29,"y":0.289},
{"t":0.3,"y":0.242},{"t":0.31,"y":0.155},{"t":0.32,"y":0.143},{"t":0.33,"y":0.119},{"t":0.34,"y":0.197},{"t":0.35,"y":0.364},{"t":0.36,"y":0.293},{"t":0.37,"y":0.315},{"t":0.38,"y":0.289},{"t":0.39,"y":0.242},
{"t":0.4,"y":0.229},{"t":0.41,"y":0.269},{"t":0.42,"y":0.229},{"t":0.43,"y":0.296},{"t":0.44,"y":0.426},{"t":0.45,"y":0.41},{"t":0.46,"y":0.541},{"t":0.47,"y":0.585},{"t":0.48,"y":0.631},{"t":0.49,"y":0.531},
{"t":0.5,"y":0.526},{"t":0.51,"y":0.57},{"t":0.52,"y":0.552},{"t":0.53,"y":0.685},{"t":0.54,"y":0.454},{"t":0.55,"y":0.471},{"t":0.56,"y":0.414},{"t":0.57,"y":0.501},{"t":0.58,"y":0.467},{"t":0.59,"y":0.594},
{"t":0.6,"y":0.835},{"t":0.61,"y":0.746},{"t":0.62,"y":0.922},{"t":0.63,"y":1.076},{"t":0.64,"y":0.916},{"t":0.65,"y":0.956},{"t":0.66,"y":0.635},{"t":0.67,"y":0.695},{"t":0.68,"y":0.691},{"t":0.69,"y":0.597},
{"t":0.7,"y":0.705},{"t":0.71,"y":0.518},{"t":0.72,"y":0.645},{"t":0.73,"y":0.474},{"t":0.74,"y":0.353},{"t":0.75,"y":0.276},{"t":0.76,"y":0.264},{"t":0.77,"y":0.209},{"t":0.78,"y":0.055},{"t":0.79,"y":-0.032},
{"t":0.8,"y":-0.005},{"t":0.81,"y":0.096},{"t":0.82,"y":0.052},{"t":0.83,"y":-0.059},{"t":0.84,"y":0.066},{"t":0.85,"y":0.079},{"t":0.86,"y":0.119},{"t":0.87,"y":-0.009},{"t":0.88,"y":0.249},{"t":0.89,"y":0.191},
{"t":0.9,"y":0.249},{"t":0.91,"y":0.28},{"t":0.92,"y":0.3},{"t":0.93,"y":0.066},{"t":0.94,"y":0.009},{"t":0.95,"y":-0.078},{"t":0.96,"y":0.019},{"t":0.97,"y":0.079},{"t":0.98,"y":0.099},{"t":0.99,"y":0.09},{"t":1,"y":0.256}
]
},
"spacing":68,
"hconcat":[
{"spacing":4.5,
"resolve":{"scale":{"color":"independent"},"legend":{"color":"independent"}},
"vconcat":[
{"title":{"text":"Euler Maruyama Scheme","fontWeight":"bold","subtitle":"Geometric Brownian Motion","subtitleFont":"DejaVu Sans","subtitleFontSize":16.7,"subtitleColor":"black","subtitleFontWeight":"normal","subtitlePadding":43,"anchor":"middle","frame":"group"},"width":564,"height":355,"data":{"name":"gL"},
"mark":{"type":"line","strokeWidth":2},
"encoding":{
"x":{"field":"t","type":"quantitative","scale":{"domain":[-0.05,1.05],"nice":false,"zero":false},"axis":{"values":[0,0.2,0.4,0.6,0.8,1],"format":".1f"}},
"y":{"field":"y","type":"quantitative","scale":{"domain":[-0.055,3.863],"nice":false,"zero":false},"axis":{"values":[0,0.5,1,1.5,2,2.5,3,3.5],"format":".1f"}},
"color":{"field":"m","type":"nominal","scale":{"domain":[-0.5,-2,0,-1,0.5],"range":["#1f77b4","#ff7f0e","#2ca02c","#d62728","#9467bd"]},"legend":{"orient":"top-right","labelExpr":"datum.value < 0 ? 'μ = − ' + (-datum.value) : 'μ = ' + datum.value"}}}},
{"title":{"text":"Ornstein-Uhlenbeck Process","anchor":"middle","frame":"group"},"width":564,"height":355,"data":{"name":"ou"},
"mark":{"type":"line","strokeWidth":2,"color":"#1f77b4"},
"encoding":{
"x":{"field":"t","type":"quantitative","scale":{"domain":[-0.05,1.05],"nice":false,"zero":false},"axis":{"values":[0,0.2,0.4,0.6,0.8,1],"format":".1f"}},
"y":{"field":"y","type":"quantitative","scale":{"domain":[-0.006,1.382],"nice":false,"zero":false},"axis":{"values":[0,0.2,0.4,0.6,0.8,1,1.2],"format":".1f"}}}},
{"title":{"text":"Diffusion Process","anchor":"middle","frame":"group"},"width":564,"height":355,"data":{"name":"dL"},
"mark":{"type":"line","strokeWidth":2,"color":"#1f77b4"},
"encoding":{
"x":{"field":"t","type":"quantitative","scale":{"domain":[-0.05,1.05],"nice":false,"zero":false},"axis":{"values":[0,0.2,0.4,0.6,0.8,1],"format":".1f"}},
"y":{"field":"y","type":"quantitative","scale":{"domain":[-0.295,1.153],"nice":false,"zero":false},"axis":{"values":[-0.2,0,0.2,0.4,0.6,0.8,1],"format":".1f"}}}}
]},
{"spacing":4.5,
"resolve":{"scale":{"color":"independent"},"legend":{"color":"independent"}},
"vconcat":[
{"title":{"text":"Milstein Scheme","fontWeight":"bold","subtitle":"Geometric Brownian Motion","subtitleFont":"DejaVu Sans","subtitleFontSize":16.7,"subtitleColor":"black","subtitleFontWeight":"normal","subtitlePadding":43,"anchor":"middle","frame":"group"},"width":564,"height":355,"data":{"name":"gR"},
"mark":{"type":"line","strokeWidth":2},
"encoding":{
"x":{"field":"t","type":"quantitative","scale":{"domain":[-0.05,1.05],"nice":false,"zero":false},"axis":{"values":[0,0.2,0.4,0.6,0.8,1],"format":".1f"}},
"y":{"field":"y","type":"quantitative","scale":{"domain":[-0.04,3.475],"nice":false,"zero":false},"axis":{"values":[0,0.5,1,1.5,2,2.5,3],"format":".1f"}},
"color":{"field":"m","type":"nominal","scale":{"domain":[-0.5,-2,0,-1,0.5],"range":["#1f77b4","#ff7f0e","#2ca02c","#d62728","#9467bd"]},"legend":{"orient":"top-right","labelExpr":"datum.value < 0 ? 'μ = − ' + (-datum.value) : 'μ = ' + datum.value"}}}},
{"title":{"text":"Ornstein-Uhlenbeck Process","anchor":"middle","frame":"group"},"width":564,"height":355,"data":{"name":"ou"},
"mark":{"type":"line","strokeWidth":2,"color":"#1f77b4"},
"encoding":{
"x":{"field":"t","type":"quantitative","scale":{"domain":[-0.05,1.05],"nice":false,"zero":false},"axis":{"values":[0,0.2,0.4,0.6,0.8,1],"format":".1f"}},
"y":{"field":"y","type":"quantitative","scale":{"domain":[-0.006,1.382],"nice":false,"zero":false},"axis":{"values":[0,0.2,0.4,0.6,0.8,1,1.2],"format":".1f"}}}},
{"title":{"text":"Diffusion Process","anchor":"middle","frame":"group"},"width":564,"height":355,"data":{"name":"dR"},
"mark":{"type":"line","strokeWidth":2,"color":"#1f77b4"},
"encoding":{
"x":{"field":"t","type":"quantitative","scale":{"domain":[-0.05,1.05],"nice":false,"zero":false},"axis":{"values":[0,0.2,0.4,0.6,0.8,1],"format":".1f"}},
"y":{"field":"y","type":"quantitative","scale":{"domain":[-0.286,1.141],"nice":false,"zero":false},"axis":{"values":[-0.2,0,0.2,0.4,0.6,0.8,1],"format":".1f"}}}}
]}
]
}
